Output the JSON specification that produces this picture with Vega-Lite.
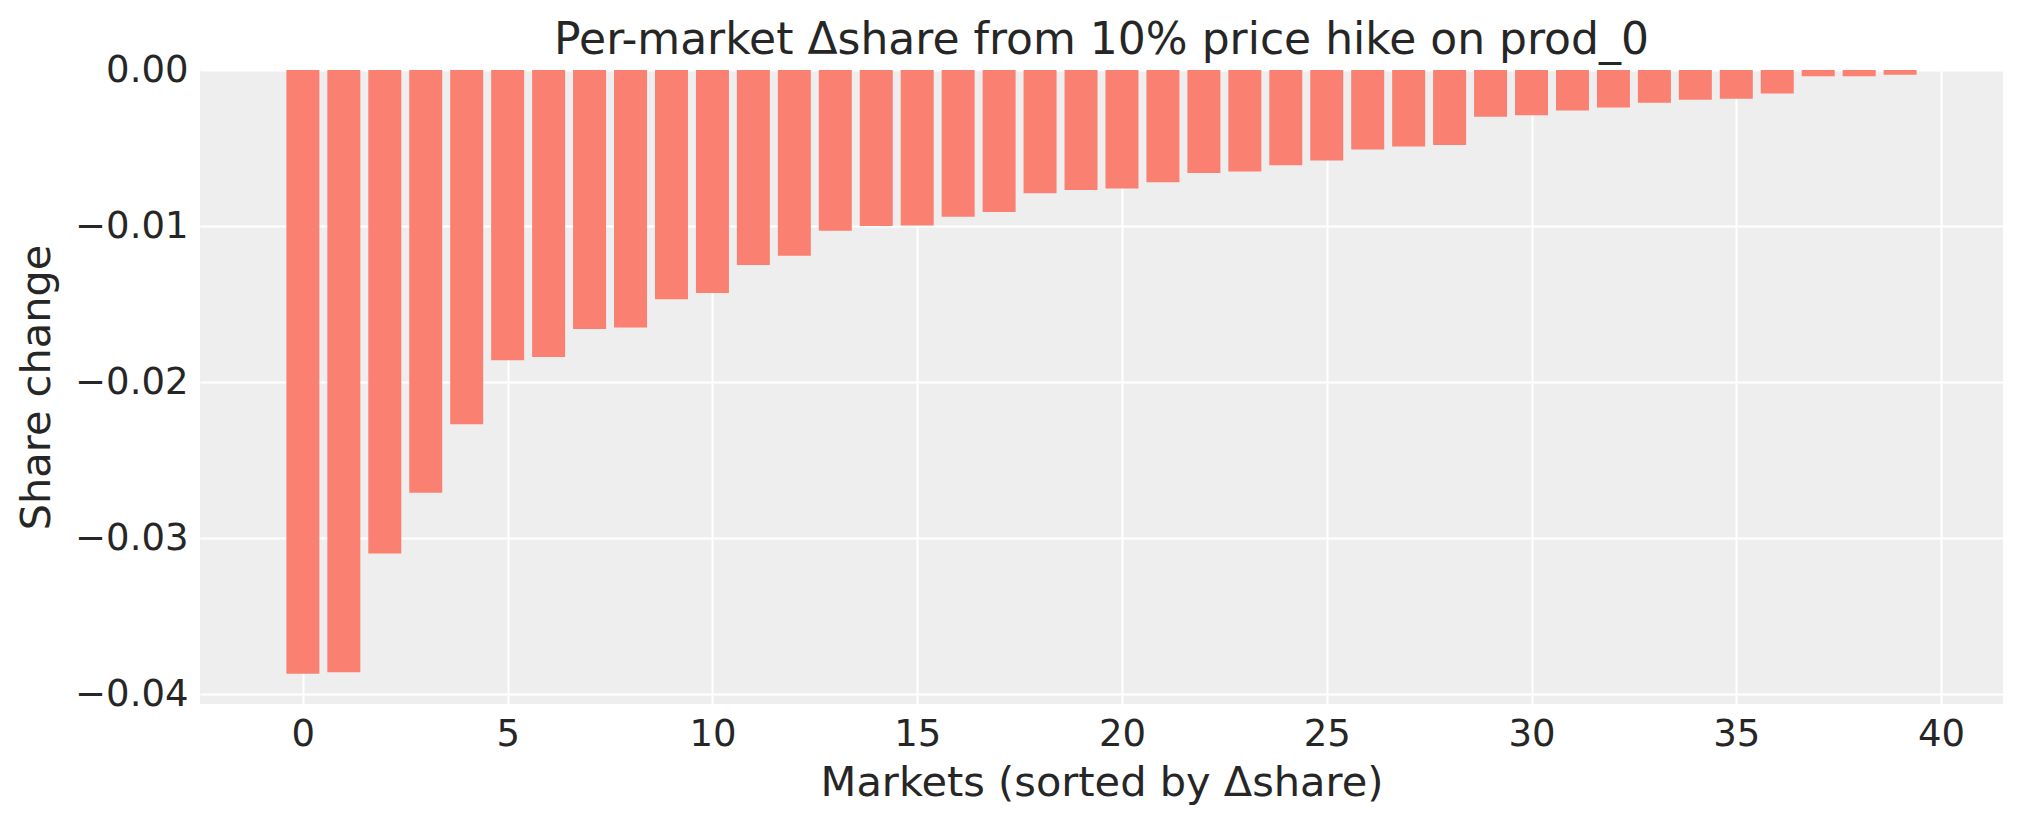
{
  "$schema": "https://vega.github.io/schema/vega-lite/v6.json",
  "width": 1803,
  "height": 634,
  "autosize": {"type": "none"},
  "padding": {"left": 200, "top": 70, "right": 20, "bottom": 119},
  "background": "white",
  "title": {
    "text": "Per-market Δshare from 10% price hike on prod_0",
    "fontSize": 44,
    "font": "DejaVu Sans",
    "fontWeight": "normal",
    "color": "#262626",
    "anchor": "middle",
    "offset": -12
  },
  "config": {
    "view": {"fill": "#eeeeee", "stroke": null},
    "axis": {
      "domain": false,
      "ticks": false,
      "grid": true,
      "gridColor": "white",
      "gridWidth": 2,
      "labelFont": "DejaVu Sans",
      "labelFontSize": 37,
      "labelColor": "#262626",
      "titleFont": "DejaVu Sans",
      "titleFontSize": 41.5,
      "titleFontWeight": "normal",
      "titleColor": "#262626"
    }
  },
  "data": {
    "values": [
      {"market": 0, "dshare": -0.0387},
      {"market": 1, "dshare": -0.0386},
      {"market": 2, "dshare": -0.0310},
      {"market": 3, "dshare": -0.0271},
      {"market": 4, "dshare": -0.0227},
      {"market": 5, "dshare": -0.0186},
      {"market": 6, "dshare": -0.0184},
      {"market": 7, "dshare": -0.0166},
      {"market": 8, "dshare": -0.0165},
      {"market": 9, "dshare": -0.0147},
      {"market": 10, "dshare": -0.0143},
      {"market": 11, "dshare": -0.0125},
      {"market": 12, "dshare": -0.0119},
      {"market": 13, "dshare": -0.0103},
      {"market": 14, "dshare": -0.0100},
      {"market": 15, "dshare": -0.00997},
      {"market": 16, "dshare": -0.0094},
      {"market": 17, "dshare": -0.0091},
      {"market": 18, "dshare": -0.0079},
      {"market": 19, "dshare": -0.0077},
      {"market": 20, "dshare": -0.0076},
      {"market": 21, "dshare": -0.0072},
      {"market": 22, "dshare": -0.0066},
      {"market": 23, "dshare": -0.0065},
      {"market": 24, "dshare": -0.0061},
      {"market": 25, "dshare": -0.0058},
      {"market": 26, "dshare": -0.0051},
      {"market": 27, "dshare": -0.0049},
      {"market": 28, "dshare": -0.0048},
      {"market": 29, "dshare": -0.0030},
      {"market": 30, "dshare": -0.0029},
      {"market": 31, "dshare": -0.0026},
      {"market": 32, "dshare": -0.0024},
      {"market": 33, "dshare": -0.0021},
      {"market": 34, "dshare": -0.0019},
      {"market": 35, "dshare": -0.00185},
      {"market": 36, "dshare": -0.0015},
      {"market": 37, "dshare": -0.0004},
      {"market": 38, "dshare": -0.0004},
      {"market": 39, "dshare": -0.0003}
    ]
  },
  "mark": {"type": "bar", "color": "#fa8072", "width": 33},
  "encoding": {
    "x": {
      "field": "market",
      "type": "quantitative",
      "title": "Markets (sorted by Δshare)",
      "scale": {"domain": [-2.39, 41.39], "nice": false, "zero": false},
      "axis": {
        "values": [0, 5, 10, 15, 20, 25, 30, 35, 40],
        "labelPadding": 12,
        "titlePadding": 10,
        "labelFlush": false
      }
    },
    "y": {
      "field": "dshare",
      "type": "quantitative",
      "title": "Share change",
      "scale": {"domain": [-0.04064, 0], "nice": false},
      "axis": {
        "values": [0, -0.01, -0.02, -0.03, -0.04],
        "format": ".2f",
        "labelPadding": 12,
        "titlePadding": 16,
        "labelFlush": false
      }
    }
  }
}
